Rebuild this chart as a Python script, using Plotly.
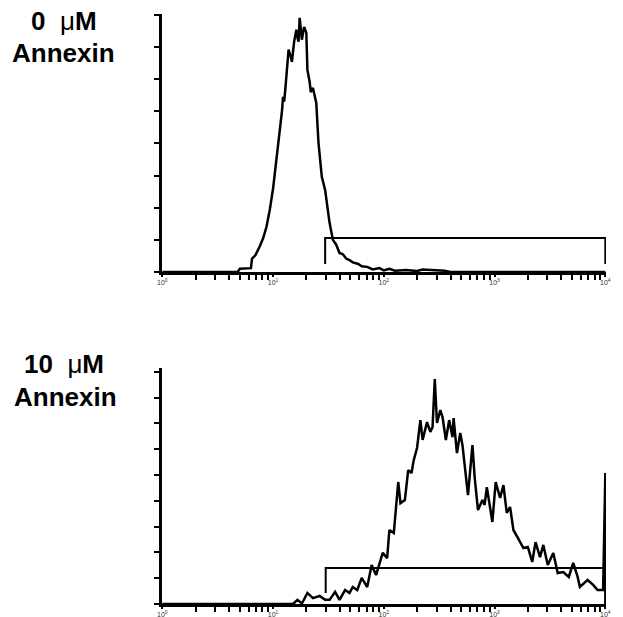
import math
import plotly.graph_objects as go

# ---- data (x in log10 fluorescence units, y in relative counts) ----
top_x = [0.00, 0.68, 0.70, 0.75, 0.80, 0.81, 0.84, 0.88, 0.91, 0.94, 0.97, 1.00, 1.02, 1.04,
         1.06, 1.08, 1.09, 1.10, 1.11, 1.13, 1.14, 1.16, 1.17, 1.19, 1.21, 1.22, 1.23, 1.24,
         1.26, 1.28, 1.30, 1.31, 1.33, 1.34, 1.36, 1.39, 1.41, 1.44, 1.47, 1.51, 1.54, 1.57,
         1.60, 1.63, 1.66, 1.69, 1.72, 1.77, 1.80, 1.85, 1.90, 1.96, 2.00, 2.05, 2.10, 2.20,
         2.30, 2.35, 2.45, 2.55, 2.60, 4.00]
top_y = [0.00, 0.00, 0.10, 0.12, 0.12, 0.42, 0.52, 0.80, 1.05, 1.40, 1.93, 2.60, 3.18, 3.80,
         4.33, 5.00, 5.45, 5.30, 5.67, 6.60, 6.92, 6.70, 6.54, 7.17, 7.54, 7.30, 7.17, 7.91,
         7.23, 7.63, 7.45, 6.29, 5.92, 5.60, 5.73, 5.26, 4.02, 2.96, 2.55, 1.53, 1.00, 0.85,
         0.59, 0.55, 0.42, 0.37, 0.30, 0.25, 0.18, 0.16, 0.08, 0.12, 0.05, 0.10, 0.04, 0.06,
         0.03, 0.08, 0.05, 0.04, 0.00, 0.00]

bot_x = [0.00, 1.18, 1.22, 1.26, 1.31, 1.36, 1.42, 1.47, 1.51, 1.56, 1.60, 1.65, 1.69, 1.72,
         1.76, 1.80, 1.85, 1.89, 1.93, 1.96, 1.99, 2.03, 2.05, 2.09, 2.11, 2.13, 2.15, 2.19,
         2.22, 2.25, 2.27, 2.30, 2.33, 2.35, 2.39, 2.42, 2.44, 2.46, 2.48, 2.51, 2.53, 2.56,
         2.59, 2.62, 2.63, 2.66, 2.69, 2.71, 2.76, 2.80, 2.82, 2.85, 2.89, 2.91, 2.93, 2.98,
         3.01, 3.05, 3.08, 3.11, 3.14, 3.17, 3.21, 3.26, 3.30, 3.34, 3.37, 3.41, 3.44, 3.48,
         3.53, 3.57, 3.62, 3.67, 3.71, 3.75, 3.77, 3.84, 3.89, 3.93, 3.98, 4.00, 4.00]
bot_y = [0.00, 0.00, 0.16, 0.02, 0.43, 0.23, 0.31, 0.16, 0.16, 0.47, 0.16, 0.54, 0.43, 0.66,
         0.54, 1.01, 0.66, 1.51, 1.12, 1.59, 1.98, 1.78, 2.87, 2.75, 3.64, 4.73, 3.91, 4.03,
         5.19, 5.08, 5.58, 6.05, 7.13, 6.36, 7.05, 6.67, 6.86, 8.72, 7.02, 7.52, 7.25, 6.36,
         7.13, 6.47, 7.21, 5.85, 6.63, 6.16, 4.22, 6.16, 4.92, 3.64, 4.03, 3.84, 4.53, 3.18,
         4.73, 4.11, 4.61, 3.53, 3.76, 2.87, 2.56, 2.17, 2.21, 1.63, 2.40, 1.82, 2.29, 1.51,
         1.98, 1.20, 1.24, 1.05, 1.59, 1.05, 0.66, 0.93, 0.74, 0.54, 0.54, 5.08, 0.00]

# gate markers (log10 start, log10 end, level, foot)
top_gate = dict(start=1.47, end=4.00, level=1.06, foot=0.25)
bot_gate = dict(start=1.475, end=4.00, level=1.40, foot=0.43)

decades = [0, 1, 2, 3, 4]
decade_labels = ["10<sup>0</sup>", "10<sup>1</sup>", "10<sup>2</sup>", "10<sup>3</sup>", "10<sup>4</sup>"]
minor_ticks = [d + math.log10(k) for d in range(4) for k in range(2, 10)]

W, H = 623, 617
x_dom = [162 / W, 606 / W]
top_dom = [(H - 272) / H, (H - 14) / H]
bot_dom = [(H - 604) / H, (H - 368) / H]

fig = go.Figure()
line = dict(color="black", width=2.5)

fig.add_trace(go.Scatter(x=top_x, y=top_y, mode="lines", line=line, xaxis="x", yaxis="y"))
fig.add_trace(go.Scatter(x=bot_x, y=bot_y, mode="lines", line=line, xaxis="x2", yaxis="y2"))

for g, xa, ya in [(top_gate, "x", "y"), (bot_gate, "x2", "y2")]:
    fig.add_trace(go.Scatter(
        x=[g["start"], g["start"], g["end"], g["end"]],
        y=[g["foot"], g["level"], g["level"], g["foot"]],
        mode="lines", line=dict(color="black", width=2), xaxis=xa, yaxis=ya))

xcommon = dict(
    range=[-0.003, 4.006], domain=x_dom, showgrid=False, zeroline=False, automargin=False,
    showline=True, linecolor="black", linewidth=2.5,
    tickmode="array", tickvals=decades, ticktext=decade_labels,
    ticks="outside", ticklen=2, tickwidth=2, tickcolor="black",
    tickfont=dict(family="Liberation Sans", size=7, color="#333333"),
    minor=dict(tickmode="array", tickvals=minor_ticks, ticks="outside",
               ticklen=5, tickwidth=2, tickcolor="black"),
)
ycommon = dict(
    showgrid=False, zeroline=False, showline=True, linecolor="black", linewidth=2.5,
    ticks="outside", ticklen=5, tickwidth=2, tickcolor="black", automargin=False,
    showticklabels=False, tickmode="array",
)

fig.update_layout(
    width=W, height=H, margin=dict(l=0, r=0, t=0, b=0, autoexpand=False),
    paper_bgcolor="white", plot_bgcolor="white", showlegend=False,
    xaxis=dict(**xcommon, anchor="y"),
    yaxis=dict(**ycommon, range=[0, 8.03], domain=top_dom, anchor="x", tickvals=list(range(9))),
    xaxis2=dict(**xcommon, anchor="y2"),
    yaxis2=dict(**ycommon, range=[0, 9.15], domain=bot_dom, anchor="x2", tickvals=list(range(10))),
)

font = dict(family="Liberation Sans", size=26, color="black")
labels = [("<b>0  </b>μ<b>M</b>", 64, 21), ("<b>Annexin</b>", 63, 53),
          ("<b>10  </b>μ<b>M</b>", 64, 364), ("<b>Annexin</b>", 65, 397)]
for txt, px, py in labels:
    fig.add_annotation(text=txt, x=px / W, y=(H - py) / H, xref="paper", yref="paper",
                       showarrow=False, xanchor="center", yanchor="middle", font=font)

fig.write_html("out.html")
